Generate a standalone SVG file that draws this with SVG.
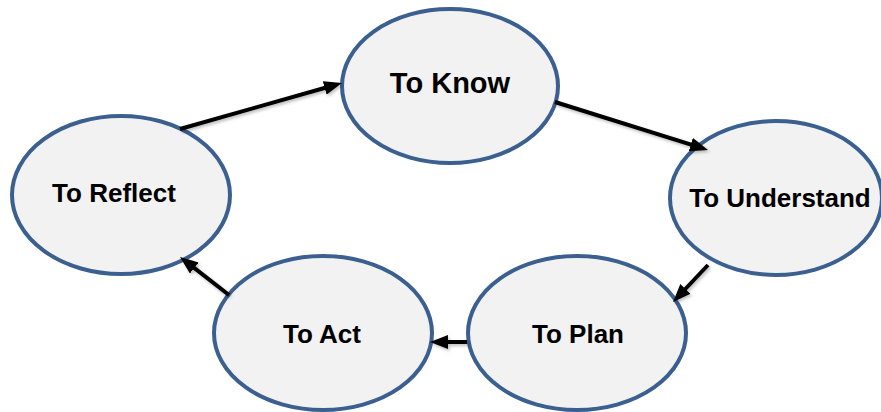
<svg xmlns="http://www.w3.org/2000/svg" width="881" height="412" viewBox="0 0 881 412">
<style>
.node{fill:#f2f2f2;stroke:#3b6090;stroke-width:4}
.lbl{font-family:"Liberation Sans",Arial,sans-serif;font-weight:bold;font-size:26px;fill:#000;text-anchor:middle}
.big{font-size:29px}
.conn{stroke:#000;stroke-width:4;fill:none;marker-end:url(#ah);filter:url(#sh)}
</style>
<defs>
<marker id="ah" markerUnits="userSpaceOnUse" markerWidth="18" markerHeight="14" refX="7" refY="7" orient="auto">
<path d="M0,0 L18,7 L0,14 z" fill="#000"/>
</marker>
<filter id="sh" filterUnits="userSpaceOnUse" x="0" y="0" width="881" height="412">
<feDropShadow dx="1.5" dy="2" stdDeviation="1.5" flood-color="#000" flood-opacity="0.25"/>
</filter>
</defs>
<g id="know"><ellipse class="node" cx="450" cy="86" rx="108" ry="77"/><text class="lbl big" x="450" y="93">To Know</text></g>
<g id="reflect"><ellipse class="node" cx="121" cy="195" rx="109" ry="79"/><text class="lbl" x="114" y="202">To Reflect</text></g>
<g id="understand"><ellipse class="node" cx="776" cy="198" rx="106" ry="77"/><text class="lbl" x="780" y="207">To Understand</text></g>
<g id="act"><ellipse class="node" cx="323" cy="333" rx="109" ry="77"/><text class="lbl" x="322" y="343">To Act</text></g>
<g id="plan"><ellipse class="node" cx="577" cy="333" rx="109" ry="77"/><text class="lbl" x="578" y="343">To Plan</text></g>
<g id="connectors">
<line class="conn" x1="180" y1="129" x2="331.4" y2="86"/>
<line class="conn" x1="555" y1="102" x2="697.5" y2="146.7"/>
<line class="conn" x1="708" y1="265" x2="680.6" y2="294"/>
<line class="conn" x1="467" y1="342" x2="441" y2="342"/>
<line class="conn" x1="229" y1="295" x2="188.7" y2="263.7"/>
</g>
</svg>
